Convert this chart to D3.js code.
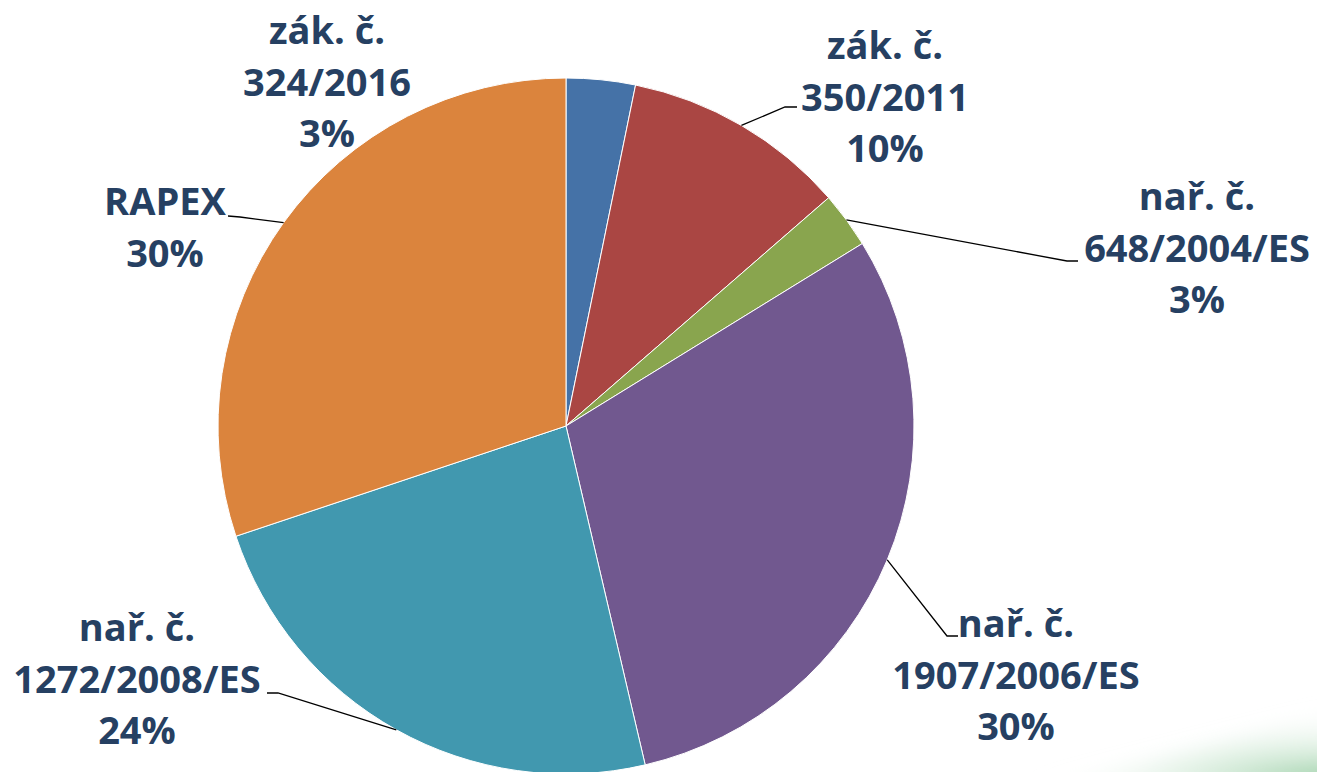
<!DOCTYPE html>
<html>
<head>
<meta charset="utf-8">
<script src="https://cdn.jsdelivr.net/npm/d3@7"></script>
<style>
  body { margin: 0; background: #fff; }
  svg { display: block; }
  .lbl { font-family: "Open Sans", sans-serif; font-weight: 700; fill: #264062; }
</style>
</head>
<body>
<script>
const width = 1317, height = 772
const cx = 566, cy = 426, radius = 348

// data (share of cases, clockwise from 12 o'clock)
const names = ['zák. č.|324/2016', 'zák. č.|350/2011', 'nař. č.|648/2004/ES',
    'nař. č.|1907/2006/ES', 'nař. č.|1272/2008/ES', 'RAPEX']
const values = [3.2, 10.4, 2.6, 30.1, 23.5, 30.1]
const colors = ['#4572A7', '#AA4643', '#89A54E', '#71588F', '#4198AF', '#DB843D']

// label layout: centre x, first baseline y, elbow point (null = no leader)
const labelPos = [
    { x: 327, y: 44, elbow: null },
    { x: 885, y: 59, elbow: [785, 107], end: [797, 107] },
    { x: 1197, y: 210, elbow: [1067, 261], end: [1078, 261] },
    { x: 1016, y: 637, elbow: [947, 636], end: [958, 636] },
    { x: 137, y: 641, elbow: [278, 693], end: [267, 693] },
    { x: 165, y: 215, elbow: [240, 217], end: [228, 216] }
]

const svg = d3.select('body').append('svg')
    .attr('width', width)
    .attr('height', height)

// soft green swoosh in the corner
const defs = svg.append('defs')
defs.append('filter').attr('id', 'soft')
    .attr('x', '-20%').attr('y', '-50%').attr('width', '140%').attr('height', '200%')
    .append('feGaussianBlur').attr('stdDeviation', 10)
const grad = defs.append('radialGradient').attr('id', 'swoosh')
    .attr('cx', '100%').attr('cy', '100%').attr('r', '100%')
grad.append('stop').attr('offset', '0%').attr('stop-color', '#79bf88').attr('stop-opacity', 0.95)
grad.append('stop').attr('offset', '100%').attr('stop-color', '#ffffff').attr('stop-opacity', 0)
svg.append('path')
    .attr('d', 'M1020,790 Q1200,750 1340,708 L1340,790 Z')
    .attr('fill', 'url(#swoosh)')
    .attr('filter', 'url(#soft)')

const total = d3.sum(values)
const pie = d3.pie().sort(null).value(d => d)
const arcs = pie(values)
const arc = d3.arc().innerRadius(0).outerRadius(radius)
const edge = d3.arc().innerRadius(radius).outerRadius(radius)

const g = svg.append('g').attr('transform', `translate(${cx},${cy})`)

g.selectAll('path.slice').data(arcs)
    .enter()
    .append('path')
    .attr('class', 'slice')
    .attr('d', arc)
    .attr('fill', (d, i) => colors[i])
    .attr('stroke', '#fff')
    .attr('stroke-width', 1)

// leader lines
svg.selectAll('path.leader').data(arcs.filter((d, i) => labelPos[i].elbow))
    .enter()
    .append('path')
    .attr('class', 'leader')
    .attr('d', d => {
        const p = labelPos[d.index]
        const c = edge.centroid(d)
        return d3.line()([[cx + c[0], cy + c[1]], p.elbow, p.end])
    })
    .attr('fill', 'none')
    .attr('stroke', '#000')
    .attr('stroke-width', 1.3)

// labels
const lineH = 51.5
arcs.forEach((d, i) => {
    const lines = names[i].split('|').concat([Math.round(d.value / total * 100) + '%'])
    const t = svg.append('text')
        .attr('class', 'lbl')
        .attr('text-anchor', 'middle')
        .style('font-size', '38px')
    lines.forEach((s, k) => {
        t.append('tspan')
            .attr('x', labelPos[i].x)
            .attr('y', labelPos[i].y + k * lineH)
            .text(s)
    })
})
</script>
</body>
</html>
